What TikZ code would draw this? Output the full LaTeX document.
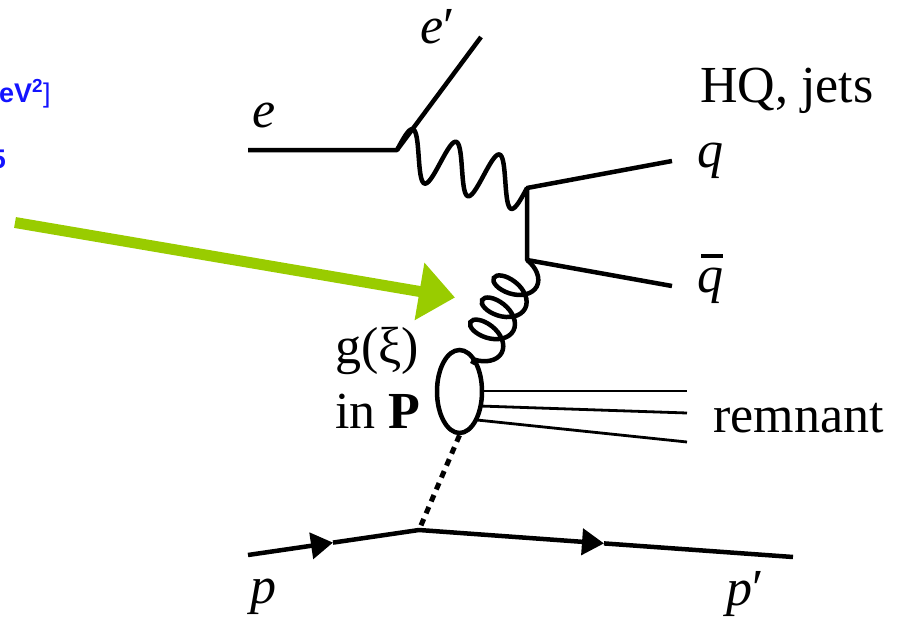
\documentclass[tikz,border=0pt]{standalone}
\usepackage{fontspec}
\setmainfont{Liberation Serif}
\newfontfamily\blueSans{Liberation Sans}
\usetikzlibrary{arrows.meta,decorations.pathmorphing,shapes.geometric}
\definecolor{arrowgreen}{HTML}{99CC00}
\definecolor{labelblue}{RGB}{20,20,255}
\begin{document}
\begin{tikzpicture}[x=1pt,y=-1pt,
  fline/.style={line width=4.5pt, line join=round},
  remline/.style={line width=2.8pt},
  lbl/.style={inner sep=0pt, anchor=base west, font=\fontsize{52}{60}\selectfont},
  bluelbl/.style={inner sep=0pt, text=labelblue, font=\blueSans\fontsize{27}{30}\selectfont\bfseries},
  photon/.style={line width=4.5pt, line join=round},
  gluon/.style={line width=4.5pt, decorate, decoration={coil, aspect=0.6, segment length=25pt, amplitude=21pt}},
  pomeron/.style={line width=5pt, dash pattern=on 7pt off 6pt},
  ptip/.style={-{Triangle[length=22pt,width=26pt]}},
  greenarrow/.style={line width=11pt, draw=arrowgreen, -{Triangle[length=36pt,width=56pt]}}
]
\useasboundingbox (0,0) rectangle (906,624);
% coordinates
\coordinate (ein) at (248,150);
\coordinate (ev) at (397,150);
\coordinate (eout) at (481,37);
\coordinate (qv1) at (527,188);
\coordinate (qv2) at (527,260);
\coordinate (qout) at (672,161);
\coordinate (qbout) at (672,286);
\coordinate (gend) at (472,364);
\coordinate (pin) at (248,555);
\coordinate (pa1) at (333,542.6);
\coordinate (pv) at (419,530);
\coordinate (pa2) at (604,543.4);
\coordinate (pout) at (793,557);
\coordinate (gtail) at (15,222.5);
\coordinate (gtip) at (455,297.5);
% ellipse (pomeron blob)
\node[draw, line width=4.5pt, ellipse, minimum width=45pt, minimum height=83pt, inner sep=0pt] (blob) at (459.5,391.5) {};
% electron
\draw[fline] (ein) -- (ev) -- (eout);
% photon (skewed wave from ev to qv1)
\draw[photon] (ev) -- plot[domain=0:1, samples=150, variable=\t]
  ({397+130*\t+5*sin(1080*\t)}, {150+38*\t-24*sin(1080*\t)}) -- (qv1);
% quarks
\draw[fline] (qout) -- (qv1) -- (qv2) -- (qbout);
% gluon
\draw[gluon] (qv2) -- (gend);
% remnant
\draw[remline] (482,391) -- (687,391);
\draw[remline] (480,406) -- (687,413);
\draw[remline] (477,420) -- (687,442);
% pomeron
\draw[pomeron] (blob.south) -- (pv);
% proton
\draw[fline, ptip] (pin) -- (pa1);
\draw[fline, ptip] (pa1) -- (pv) -- (pa2);
\draw[fline] (pa2) -- (pout);
% green arrow
\draw[greenarrow] (gtail) -- (gtip);
% labels
\node[lbl] (le) at (252,127) {\textit{e}};
\node[lbl] (lep) at (420,43) {\textit{e}′};
\node[lbl] (lhq) at (700,102) {HQ, jets};
\node[lbl] (lq) at (697,167) {\textit{q}};
\node[lbl] (lqb) at (697,292) {\rlap{\hspace{4pt}\raisebox{34pt}{\rule{22pt}{4pt}}}\textit{q}};
\node[lbl] (lg) at (335,363) {g(ξ)};
\node[lbl] (lin) at (335,428) {in \textbf{P}};
\node[lbl] (lrem) at (713,432) {remnant};
\node[lbl] (lp) at (250,603) {\textit{p}};
\node[lbl] (lpp) at (726,605) {\textit{p}′};
\node[bluelbl, anchor=base west] (lunit) at (-1,102) {eV\textsuperscript{2}{\mdseries]}};
\node[bluelbl, anchor=base east] (lfive) at (6,168) {5};
\end{tikzpicture}
\end{document}
